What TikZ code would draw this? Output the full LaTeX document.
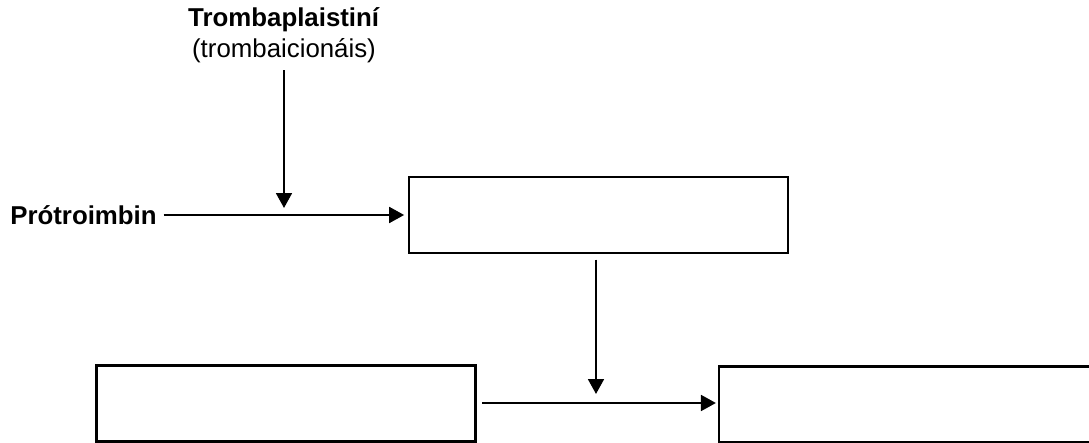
\documentclass[tikz,border=0pt]{standalone}
\usepackage{fontspec}
\setmainfont{Liberation Sans}
\usetikzlibrary{arrows.meta}
\begin{document}
\begin{tikzpicture}[-{Triangle[length=8.5pt,width=9pt]}, align=center, line width=1.3pt]
\tikzstyle{b} = [draw=black, line width=1.5pt, minimum width=7.58cm, minimum height=1.52cm, inner sep=0pt]
\tikzstyle{t} = [font=\fontsize{14.7}{17.5}\selectfont]

\useasboundingbox (0,0) rectangle (21.78,8.86);
\clip (0,0) rectangle (21.78,8.86);

\node[t] (tromba) at (5.68, 8.15) {\textbf{Trombaplaistiní}\\(trombaicionáis)};
\node[t] (pro) at (1.67, 4.56) {\textbf{Prótroimbin}};
\node[b] (top) at (11.97, 4.56) {};
\node[b] (left) at (5.72, 0.79) {};
\node[b] (right) at (18.17, 0.77) {};

\coordinate (j) at (5.68, 4.70);
\coordinate (k) at (11.92, 0.98);

\draw (tromba) -- (j);
\draw[shorten >=2pt] (pro) -- (top);
\draw[shorten <=3pt] (top.south -| k) -- (k);
\draw[shorten <=3pt, shorten >=1pt] ([yshift=0.01cm]left.east) -- ([yshift=0.01cm]right.west |- left.east);
\end{tikzpicture}
\end{document}
